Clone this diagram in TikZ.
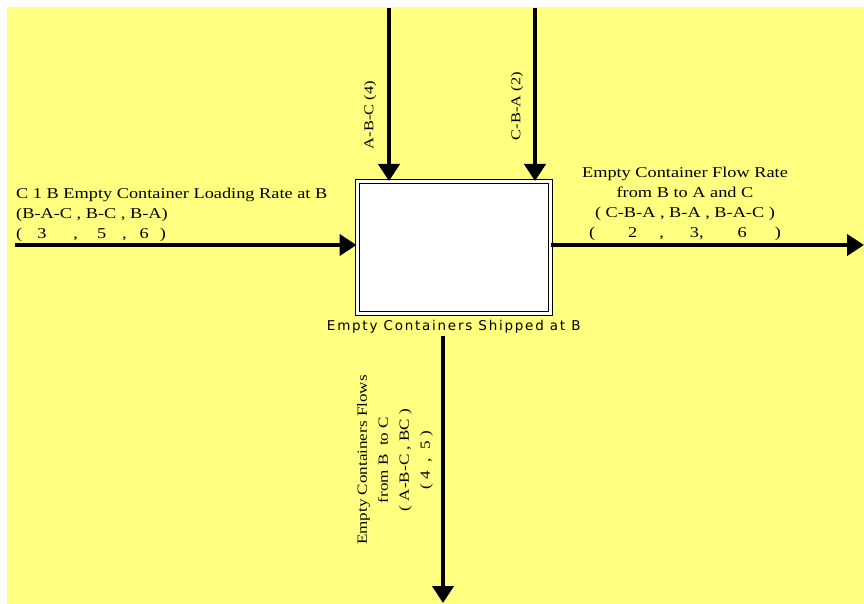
\documentclass[tikz,border=0pt]{standalone}
\usepackage{fontspec}
\setmainfont[FakeStretch=1.22]{Liberation Serif}
\newfontfamily\captionsans[LetterSpace=13]{DejaVu Sans}
\usetikzlibrary{arrows.meta,positioning}
\definecolor{sheet}{HTML}{FFFF80}
\begin{document}
\begin{tikzpicture}[
            x=1pt, y=-1pt,
            flow/.style={draw, line width=4.8pt, -{Triangle[length=17pt, width=21pt]}},
            activity/.style={draw, double=white, double distance=3pt, line width=1pt, fill=white, minimum width=193.5pt, minimum height=132pt, inner sep=0pt},
            lbl/.style={font=\fontsize{15}{20}\selectfont, inner sep=0pt},
            vlbl/.style={font=\fontsize{13.5}{21}\selectfont, inner sep=0pt, rotate=90}
        ]
        \useasboundingbox (0,0) rectangle (864,604);
        \fill[sheet] (7,7) rectangle (864,604);
        \coordinate (topA) at (389,8);
        \coordinate (topB) at (535,8);
        \coordinate (inL) at (15,245);
        \coordinate (outR) at (864,245);
        \coordinate (outB) at (443,603);
        \node[activity] (act) at (453.75,247.5) {};
        \node[font=\captionsans\fontsize{13.5}{15}\selectfont, inner sep=0pt, below=6pt of act] (shiplbl) {Empty Containers Shipped at B};
        \draw[flow] (topA) -- (topA |- act.north);
        \draw[flow] (topB) -- (topB |- act.north);
        \draw[flow] (inL) -- (inL -| act.west);
        \draw[flow] (outR -| act.east) -- (outR);
        \draw[flow] (shiplbl.south -| outB) ++(0,3) -- (outB);
        \node[lbl, align=left, anchor=south west] (inlbl) at (16,242) {C 1 B Empty Container Loading Rate at B\\(B-A-C , B-C , B-A)\\(\hspace{15pt}3\hspace{27pt},\hspace{19pt}5\hspace{16pt},\hspace{13pt}6\hspace{11pt})};
        \node[lbl, align=center, anchor=south] (outlbl) at (685,241) {Empty Container Flow Rate\\from B to A and C\\( C-B-A , B-A , B-A-C )\\(\hspace{33pt}2\hspace{22pt},\hspace{26pt}3,\hspace{34pt}6\hspace{28pt})};
        \node[vlbl] (topAlbl) at (370,115) {A-B-C (4)};
        \node[vlbl] (topBlbl) at (517,106) {C-B-A (2)};
        \node[vlbl, font=\fontsize{14}{21}\selectfont, align=center] (outBlbl) at (395,460) {Empty Containers Flows\\from B~ to C\\( A-B-C , BC )\\( 4 ~, ~5 )};
    \end{tikzpicture}
\end{document}
